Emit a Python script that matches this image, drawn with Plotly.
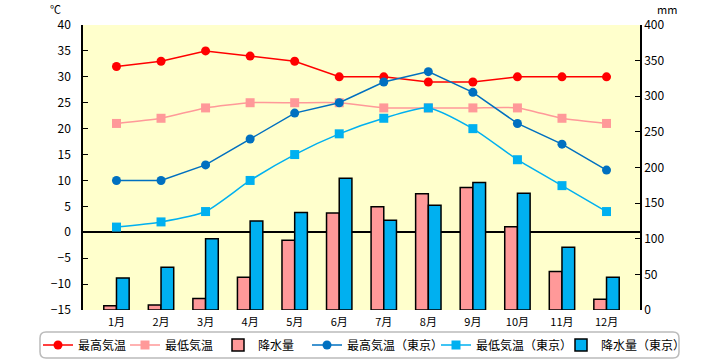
import plotly.graph_objects as go

months = ["1月", "2月", "3月", "4月", "5月", "6月", "7月", "8月", "9月", "10月", "11月", "12月"]
high = [32, 33, 35, 34, 33, 30, 30, 29, 29, 30, 30, 30]
low = [21, 22, 24, 25, 25, 25, 24, 24, 24, 24, 22, 21]
rain = [6, 7, 16, 46, 98, 136, 145, 163, 172, 117, 54, 15]
high_tokyo = [10, 10, 13, 18, 23, 25, 29, 31, 27, 21, 17, 12]
low_tokyo = [1, 2, 4, 10, 15, 19, 22, 24, 20, 14, 9, 4]
rain_tokyo = [45, 60, 100, 125, 137, 185, 126, 147, 179, 164, 88, 46]

FONT = "Noto Sans CJK JP"
W, H = 720, 360
L, R, T, B = 83, 80, 25, 50
PW, PH = W - L - R, H - T - B


def px_x(px):
    return (px - L) / PW


def px_y(py):
    return (H - B - py) / PH


fig = go.Figure()

fig.add_trace(go.Bar(x=months, y=rain, name="降水量", yaxis="y", legend="legend3",
                     marker=dict(color="#FF9999", line=dict(color="black", width=1.5))))
fig.add_trace(go.Bar(x=months, y=rain_tokyo, name="降水量（東京）", yaxis="y", legend="legend6",
                     marker=dict(color="#00B0F0", line=dict(color="black", width=1.5))))

fig.add_trace(go.Scatter(x=months, y=high, name="最高気温", yaxis="y2", mode="lines+markers",
                         legend="legend",
                         line=dict(color="#FF0000", width=1.5),
                         marker=dict(symbol="circle", size=9, color="#FF0000")))
fig.add_trace(go.Scatter(x=months, y=low, name="最低気温", yaxis="y2", mode="lines+markers",
                         legend="legend2",
                         line=dict(color="#FF9999", width=1.5, shape="spline", smoothing=0.6),
                         marker=dict(symbol="square", size=9, color="#FF9999")))
fig.add_trace(go.Scatter(x=months, y=high_tokyo, name="最高気温（東京）", yaxis="y2", mode="lines+markers",
                         legend="legend4",
                         line=dict(color="#0070C0", width=1.5),
                         marker=dict(symbol="circle", size=9, color="#0070C0")))
fig.add_trace(go.Scatter(x=months, y=low_tokyo, name="最低気温（東京）", yaxis="y2", mode="lines+markers",
                         legend="legend5",
                         line=dict(color="#00B0F0", width=1.5, shape="spline", smoothing=0.6),
                         marker=dict(symbol="square", size=9, color="#00B0F0")))

text_starts = [78, 165, 258, 347, 476, 601]
legends = {}
for i, ts in enumerate(text_starts):
    key = "legend" if i == 0 else f"legend{i + 1}"
    legends[key] = dict(orientation="h", x=px_x(ts - 40), xanchor="left",
                        y=px_y(345), yanchor="middle", bgcolor="rgba(0,0,0,0)",
                        borderwidth=0, font=dict(size=12, family=FONT), itemwidth=30)

# rounded legend frame
x0, x1, y0, y1, r = 40, 679, 332, 358, 6
path = (f"M {px_x(x0 + r)},{px_y(y0)} L {px_x(x1 - r)},{px_y(y0)} "
        f"Q {px_x(x1)},{px_y(y0)} {px_x(x1)},{px_y(y0 + r)} "
        f"L {px_x(x1)},{px_y(y1 - r)} Q {px_x(x1)},{px_y(y1)} {px_x(x1 - r)},{px_y(y1)} "
        f"L {px_x(x0 + r)},{px_y(y1)} Q {px_x(x0)},{px_y(y1)} {px_x(x0)},{px_y(y1 - r)} "
        f"L {px_x(x0)},{px_y(y0 + r)} Q {px_x(x0)},{px_y(y0)} {px_x(x0 + r)},{px_y(y0)} Z")

fig.update_layout(
    width=W, height=H,
    margin=dict(l=L, r=R, t=T, b=B, autoexpand=False),
    paper_bgcolor="white",
    plot_bgcolor="#FFFFCC",
    font=dict(family=FONT, size=11, color="black"),
    barmode="group",
    bargap=0.43,
    bargroupgap=0,
    showlegend=True,
    **legends,
    xaxis=dict(showline=False, ticks="", showgrid=False, tickfont=dict(size=11),
               ticklabelstandoff=4),
    yaxis=dict(side="right", range=[0, 400], dtick=50, showgrid=False, showline=True,
               linecolor="black", linewidth=1.5, ticks="inside", ticklen=5,
               tickcolor="black", zeroline=False, tickfont=dict(size=12)),
    yaxis2=dict(side="left", overlaying="y", range=[-15, 40], dtick=5, showgrid=False,
                showline=True, linecolor="black", linewidth=1.5, ticks="inside", ticklen=5,
                tickcolor="black", zeroline=True, zerolinecolor="black", zerolinewidth=1.5,
                tickfont=dict(size=12), ticklabelstandoff=8),
    shapes=[dict(type="path", xref="paper", yref="paper", path=path,
                 line=dict(color="#BBBBBB", width=1.5), fillcolor="rgba(0,0,0,0)")],
    annotations=[
        dict(text="℃", xref="paper", yref="paper", x=px_x(55), y=px_y(-1), xanchor="center",
             yanchor="top", showarrow=False, font=dict(size=11)),
        dict(text="mm", xref="paper", yref="paper", x=px_x(667), y=px_y(-1), xanchor="center",
             yanchor="top", showarrow=False, font=dict(size=11)),
    ],
)

fig.write_html("out.html", config={"displayModeBar": False},
               post_script="document.body.style.margin='0';")
